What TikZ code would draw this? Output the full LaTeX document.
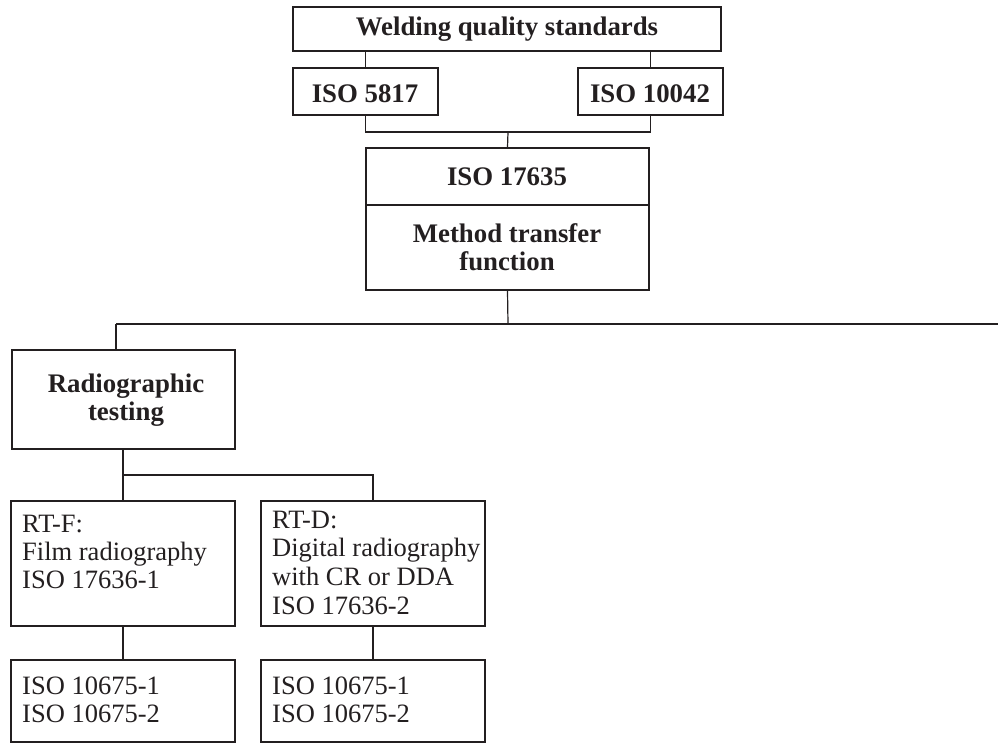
\documentclass[tikz,border=0pt]{standalone}
\usepackage{fontspec}
\setmainfont{Liberation Serif}
\definecolor{ink}{HTML}{231F20}
\newcommand\mylinesL[2]{\vtop{\baselineskip=#1\relax\tabskip=0pt\halign{##\hfil\cr #2\cr}}}
\newcommand\mylinesC[2]{\vtop{\baselineskip=#1\relax\tabskip=0pt\halign{\hfil##\hfil\cr #2\cr}}}
\tikzset{
  box/.style={draw=ink, line width=1.8pt, inner sep=0pt, rectangle},
  conn/.style={draw=ink, line width=1.2pt},
  bt/.style={inner sep=0pt, anchor=base, text=ink, font=\fontsize{26.8}{28}\selectfont\bfseries},
  rt/.style={inner sep=0pt, anchor=base west, text=ink, font=\fontsize{26.5}{28}\selectfont},
}
\begin{document}
\begin{tikzpicture}[x=1pt,y=-1pt]
\useasboundingbox (0,0) rectangle (998,745);
% boxes
\node[box, minimum width=428pt, minimum height=44pt] (top) at (507,29) {};
\node[box, minimum width=145pt, minimum height=47pt] (iso5817) at (365.5,91.5) {};
\node[box, minimum width=145pt, minimum height=47pt] (iso10042) at (650.5,91.5) {};
\node[box, minimum width=283pt, minimum height=142pt] (iso17635) at (507.5,219) {};
\node[box, minimum width=223pt, minimum height=99pt] (rtest) at (123.5,399.5) {};
\node[box, minimum width=224pt, minimum height=125pt] (rtf) at (123,563.5) {};
\node[box, minimum width=224pt, minimum height=125pt] (rtd) at (373,563.5) {};
\node[box, minimum width=224pt, minimum height=82pt] (bf) at (123,701) {};
\node[box, minimum width=224pt, minimum height=82pt] (bd) at (373,701) {};
\draw[draw=ink, line width=1.2pt] (iso17635.west |- 0,205) -- (iso17635.east |- 0,205);
% texts
\node[bt] (t1) at (507,35) {Welding quality standards};
\node[bt] (t2) at (365,102) {ISO 5817};
\node[bt] (t3) at (650,102) {ISO 10042};
\node[bt] (t4) at (507,185) {ISO 17635};
\node[bt] (t5) at (507,242) {\mylinesC{28pt}{Method transfer\cr function}};
\node[bt] (t6) at (126,392) {\mylinesC{28pt}{Radiographic\cr testing}};
\node[rt] (t7) at (22,532) {\mylinesL{28pt}{RT-F:\cr Film radiography\cr ISO 17636-1}};
\node[rt] (t8) at (272,528) {\mylinesL{28.7pt}{RT-D:\cr Digital radiography\cr with CR or DDA\cr ISO 17636-2}};
\node[rt] (t9) at (22,694) {\mylinesL{28pt}{ISO 10675-1\cr ISO 10675-2}};
\node[rt] (t10) at (272,694) {\mylinesL{28pt}{ISO 10675-1\cr ISO 10675-2}};
% connectors
\draw[conn] (top.south -| iso5817.north) -- (iso5817.north);
\draw[conn] (top.south -| iso10042.north) -- (iso10042.north);
\coordinate (j1) at (508,132);
\draw[conn] (iso5817.south) |- (j1) -| (iso10042.south);
\draw[conn] (j1) -- (iso17635.north);
\coordinate (j2) at (508,324);
\coordinate (lend) at (998,324);
\coordinate (lstart) at (116,324);
\draw[conn] (iso17635.south) -- (j2);
\draw[conn] (lstart) -- (lend);
\draw[conn] (lstart) -- (lstart |- rtest.north);
\coordinate (j3) at (123,475);
\draw[conn] (rtest.south -| j3) -- (j3);
\draw[conn] (rtf.north) |- (j3 -| rtd.north) -- (rtd.north);
\draw[conn] (rtf.south) -- (bf.north);
\draw[conn] (rtd.south) -- (bd.north);
\end{tikzpicture}
\end{document}
